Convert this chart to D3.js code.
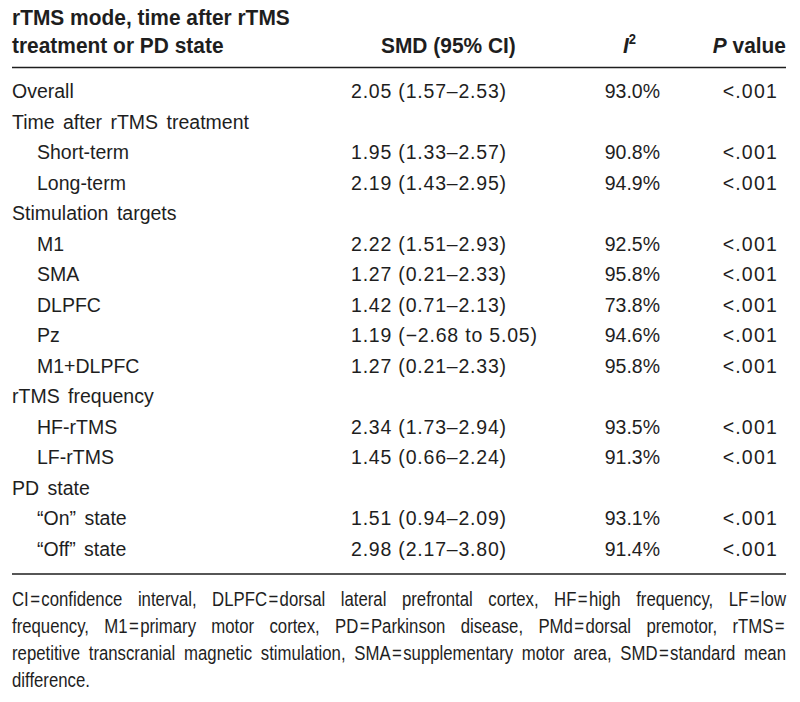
<!DOCTYPE html>
<html><head><meta charset="utf-8">
<script src="https://cdn.jsdelivr.net/npm/d3@7"></script>
<style>body{margin:0;background:#fff}svg{display:block}</style>
</head><body>
<svg id="c" width="800" height="702"></svg>
<script>
// ---- data ----
const rowLabels = ["Overall","Time after rTMS treatment","Short-term","Long-term","Stimulation targets","M1","SMA","DLPFC","Pz","M1+DLPFC","rTMS frequency","HF-rTMS","LF-rTMS","PD state","\u201COn\u201D state","\u201COff\u201D state"];
const rowIndent = [0,0,1,1,0,1,1,1,1,1,0,1,1,0,1,1];
const smd    = [2.05,null,1.95,2.19,null,2.22,1.27,1.42,1.19,1.27,null,2.34,1.45,null,1.51,2.98];
const ciLow  = [1.57,null,1.33,1.43,null,1.51,0.21,0.71,-2.68,0.21,null,1.73,0.66,null,0.94,2.17];
const ciHigh = [2.53,null,2.57,2.95,null,2.93,2.33,2.13,5.05,2.33,null,2.94,2.24,null,2.09,3.80];
const i2     = [93.0,null,90.8,94.9,null,92.5,95.8,73.8,94.6,95.8,null,93.5,91.3,null,93.1,91.4];
const pValues= ["<.001",null,"<.001","<.001",null,"<.001","<.001","<.001","<.001","<.001",null,"<.001","<.001",null,"<.001","<.001"];
const headerLines = ["rTMS mode, time after rTMS","treatment or PD state"];
const colHeaders = ["SMD (95% CI)","I","P"];
const footnoteLines = [
  "CI=confidence interval, DLPFC=dorsal lateral prefrontal cortex, HF=high frequency, LF=low",
  "frequency, M1=primary motor cortex, PD=Parkinson disease, PMd=dorsal premotor, rTMS=",
  "repetitive transcranial magnetic stimulation, SMA=supplementary motor area, SMD=standard mean",
  "difference."
];

// ---- drawing ----
const svg = d3.select("#c");
const ink = "#1e1e1e";
const bodyFont = "'Liberation Sans', Arial, sans-serif";

const left = 12, right = 786;
const y = d3.scalePoint().domain(d3.range(rowLabels.length)).range([98, 555.5]);

// header (condensed bold look via horizontal scaling)
const hsx = 0.93;
const hdr = svg.append("g").attr("font-family", bodyFont).attr("font-weight", "bold")
  .attr("font-size", 22.5).attr("fill", ink).attr("transform", `scale(${hsx},1)`);
hdr.selectAll("text.h").data(headerLines).join("text").attr("class","h")
  .attr("x", left/hsx).attr("y", (d,i) => 25 + i*28).text(d => d);
hdr.append("text").attr("x", 381/hsx).attr("y", 53).text(colHeaders[0]);
const iT = hdr.append("text").attr("x", 623/hsx).attr("y", 53);
iT.append("tspan").attr("font-style","italic").text(colHeaders[1]);
iT.append("tspan").attr("font-size", 14).attr("dy", -9).text("2");
const pT = hdr.append("text").attr("x", right/hsx).attr("y", 53).attr("text-anchor","end");
pT.append("tspan").attr("font-style","italic").text(colHeaders[2]);
pT.append("tspan").text(" value");

// rules
svg.selectAll("line.rule").data([67.5, 574]).join("line").attr("class","rule")
  .attr("x1", left).attr("x2", right).attr("y1", d=>d).attr("y2", d=>d)
  .attr("stroke", ink).attr("stroke-width", 1.6);

// body rows
const fmt = d3.format(".2f");
const minus = v => v < 0 ? "\u2212" + fmt(-v) : fmt(v);
const smdText = i => smd[i] == null ? "" :
  fmt(smd[i]) + " (" + (ciLow[i] < 0 ? minus(ciLow[i]) + " to " + minus(ciHigh[i]) : fmt(ciLow[i]) + "\u2013" + fmt(ciHigh[i])) + ")";

const body = svg.append("g").attr("font-family", bodyFont).attr("font-size", 19.5).attr("fill", ink);
const rows = body.selectAll("g.row").data(d3.range(rowLabels.length)).join("g")
  .attr("class","row").attr("transform", i => `translate(0,${y(i)})`);
rows.append("text").attr("x", i => rowIndent[i] ? 37 : left).attr("word-spacing", 3).text(i => rowLabels[i]);
rows.append("text").attr("x", 351).attr("letter-spacing", 0.8).text(i => smdText(i));
rows.append("text").attr("x", 660).attr("text-anchor","end").text(i => i2[i] == null ? "" : d3.format(".1f")(i2[i]) + "%");
rows.append("text").attr("x", 778).attr("text-anchor","end").attr("letter-spacing", 1.2).text(i => pValues[i] || "");

// footnote (justified, condensed)
const fsx = 0.86;
const foot = svg.append("g").attr("font-family", bodyFont).attr("font-size", 19.5).attr("fill", ink)
  .attr("transform", `scale(${fsx},1)`);
footnoteLines.forEach((line, li) => {
  const yy = 606 + li*27;
  const words = line.replace(/=/g, "\u200A=\u200A").split(" ");
  if (li === footnoteLines.length - 1) {
    foot.append("text").attr("x", left/fsx).attr("y", yy).text(words.join(" "));
    return;
  }
  const ts = words.map(w => foot.append("text").attr("y", yy).text(w));
  const widths = ts.map(t => t.node().getComputedTextLength());
  const gap = ((right - left)/fsx - d3.sum(widths)) / (words.length - 1);
  let x = left/fsx;
  ts.forEach((t, k) => { t.attr("x", x); x += widths[k] + gap; });
});
</script>
</body></html>
